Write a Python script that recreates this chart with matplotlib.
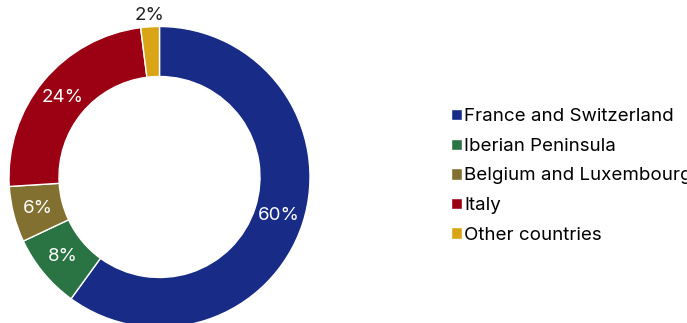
import numpy as np
import matplotlib.pyplot as plt

plt.rcParams['font.family'] = ['Inter', 'DejaVu Sans']

regions = ['France and Switzerland', 'Iberian Peninsula', 'Belgium and Luxembourg',
           'Italy', 'Other countries']
shares = [60, 8, 6, 24, 2]
colors = ['#182b87', '#2a7342', '#81702f', '#9c0013', '#d9a516']

W, H = 687, 323
fig = plt.figure(figsize=(W / 100, H / 100), dpi=100)
ax = fig.add_axes([0, 0, 1, 1])

cx, cy, r, ring = 159.5, H - 177, 150.5, 50
wedges, _ = ax.pie(shares, colors=colors, startangle=90, counterclock=False,
                   center=(cx, cy), radius=r, frame=True,
                   wedgeprops=dict(width=ring, edgecolor='white', linewidth=1))
ax.set_xlim(0, W)
ax.set_ylim(0, H)
ax.set_aspect('equal')
ax.axis('off')

# percentage labels: inside the ring, small slices above it
for w, v in zip(wedges, shares):
    ang = np.deg2rad((w.theta1 + w.theta2) / 2)
    if v < 4:
        d, col = r + 11, '#222222'
    else:
        d, col = r - ring / 2, 'white'
    ax.text(cx + d * np.cos(ang), cy + d * np.sin(ang), f'{v}%',
            ha='center', va='center', fontsize=13.5, color=col)

leg = ax.legend(wedges, regions, loc='center left',
                bbox_to_anchor=(442 / W, 1 - 176 / H), frameon=False,
                fontsize=13.5, handlelength=0.55, handleheight=0.55,
                handletextpad=0.12, labelspacing=0.67, borderpad=0)

fig.savefig('out.png', dpi=100)
